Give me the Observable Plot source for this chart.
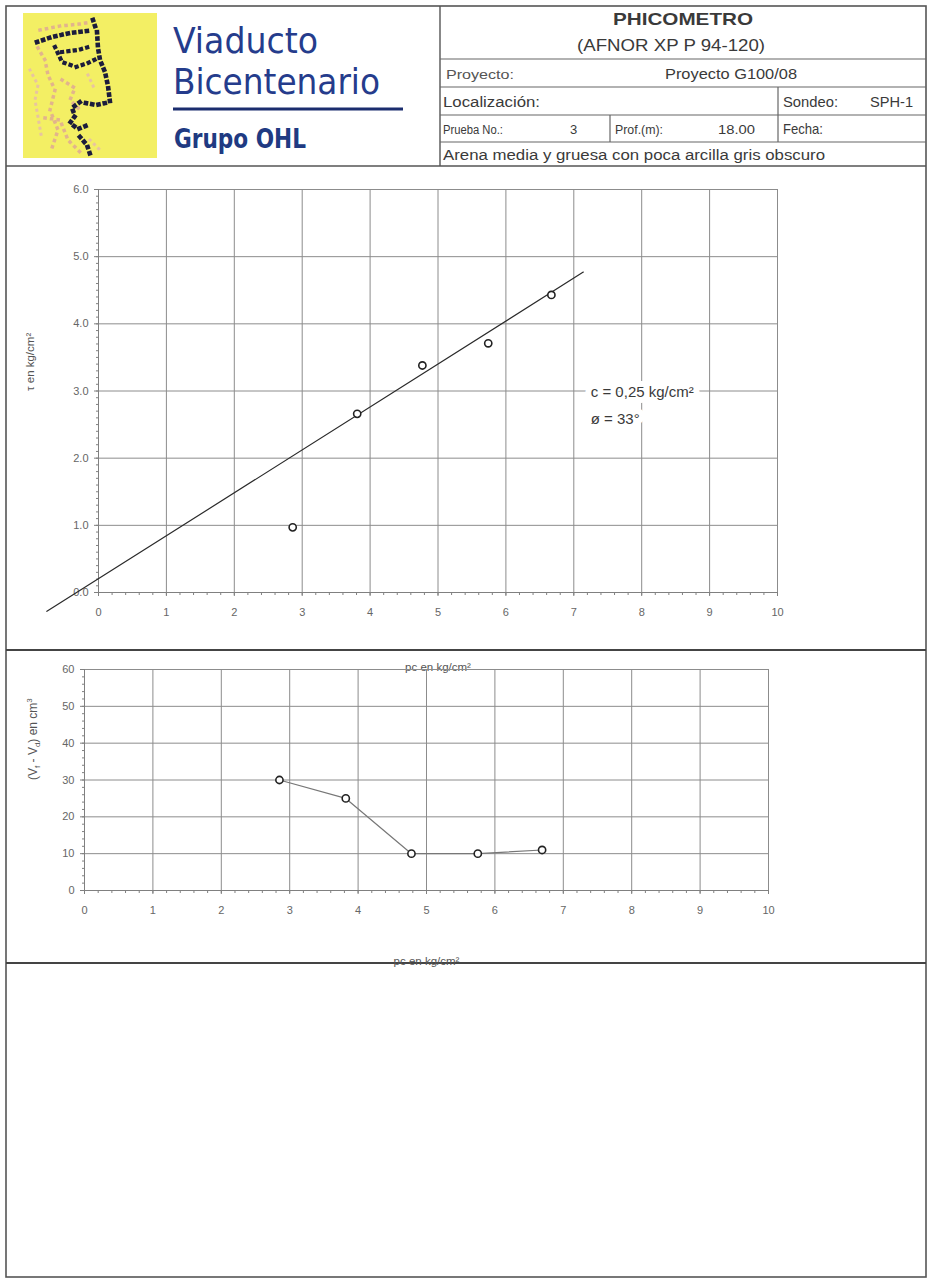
<!DOCTYPE html>
<html>
<head>
<meta charset="utf-8">
<script src="https://cdn.jsdelivr.net/npm/d3@7"></script>
<script src="https://cdn.jsdelivr.net/npm/@observablehq/plot@0.6"></script>
<style>
  html, body { margin: 0; padding: 0; background: #fff; }
  #page { position: relative; width: 929px; height: 1281px; overflow: hidden; background: #fff; }
  #page > svg, #page > div { position: absolute; }
  text { font-family: "Liberation Sans", Arial, sans-serif; }
</style>
</head>
<body>
<div id="page">
  <svg id="sheet" width="929" height="1281" style="left:0;top:0">
    <!-- outer frame -->
    <rect x="6" y="6" width="920" height="1271" fill="none" stroke="#555" stroke-width="1.6"/>
    <!-- header bottom and panel separators -->
    <line x1="6" x2="926" y1="166" y2="166" stroke="#555" stroke-width="1.6"/>
    <line x1="6" x2="926" y1="650" y2="650" stroke="#444" stroke-width="2.2"/>
    <line x1="6" x2="926" y1="963" y2="963" stroke="#444" stroke-width="2.2"/>
    <!-- header grid -->
    <line x1="440" x2="440" y1="6" y2="166" stroke="#555" stroke-width="1.4"/>
    <line x1="440" x2="926" y1="59" y2="59" stroke="#666" stroke-width="1.2"/>
    <line x1="440" x2="926" y1="87" y2="87" stroke="#666" stroke-width="1.2"/>
    <line x1="440" x2="926" y1="115" y2="115" stroke="#666" stroke-width="1.2"/>
    <line x1="440" x2="926" y1="142" y2="142" stroke="#666" stroke-width="1.2"/>
    <line x1="778" x2="778" y1="87" y2="142" stroke="#666" stroke-width="1.2"/>
    <line x1="610" x2="610" y1="115" y2="142" stroke="#666" stroke-width="1.2"/>

    <!-- logo -->
    <rect x="23" y="13" width="134" height="145" fill="#f3ef64"/>
    <g fill="none" stroke-linecap="square" stroke-linejoin="round">
      <path d="M40 30 L60 26 L80 24 L92 22 M38 48 L45 60 L48 75 L55 90 L50 110 L58 130 L52 148 M62 80 L75 88 L70 100 L80 110 M45 118 L60 120 L68 140 L80 152"
            stroke="#e2b48c" stroke-width="3.5" stroke-dasharray="0.1 6.5"/>
      <path d="M30 70 L38 85 L35 100 L42 140 M88 75 L95 90 M90 140 L100 150"
            stroke="#e8c4a0" stroke-width="3" stroke-dasharray="0.1 6"/>
      <path d="M37 42 L52 37 L70 33 L87 31 M93 20 L97 32 L98 48 L100 60 L105 72 L108 86 L110 102 L96 105 L80 102 L72 108 L75 116 L70 123 L78 129 L88 125 M80 137 L87 145 L90 154"
            stroke="#1c1c3c" stroke-width="4.6" stroke-dasharray="0.1 6.3"/>
      <path d="M55 47 L62 62 L76 67 L88 63 L98 58 M62 52 L78 50 L92 46"
            stroke="#1c1c3c" stroke-width="4.2" stroke-dasharray="0.1 6.3"/>
    </g>

    <text x="173" y="53" font-size="36" fill="#253c8c" textLength="145" lengthAdjust="spacingAndGlyphs"
          style="font-family:'Liberation Sans Narrow','DejaVu Sans Condensed',sans-serif">Viaducto</text>
    <text x="173" y="94" font-size="36" fill="#253c8c" textLength="207" lengthAdjust="spacingAndGlyphs"
          style="font-family:'Liberation Sans Narrow','DejaVu Sans Condensed',sans-serif">Bicentenario</text>
    <line x1="173" x2="403" y1="109" y2="109" stroke="#1b2d6e" stroke-width="3"/>
    <text x="174" y="148" font-size="27" font-weight="bold" fill="#203a82" textLength="132" lengthAdjust="spacingAndGlyphs"
          style="font-family:'DejaVu Sans Condensed','Liberation Sans Narrow',sans-serif">Grupo OHL</text>

    <g fill="#3a3a3a">
      <text x="683" y="25" font-size="17" font-weight="bold" text-anchor="middle" textLength="140" lengthAdjust="spacingAndGlyphs">PHICOMETRO</text>
      <text x="671" y="51" font-size="17" text-anchor="middle" textLength="188" lengthAdjust="spacingAndGlyphs">(AFNOR XP P 94-120)</text>
      <text x="446" y="79" font-size="13" fill="#555" textLength="68" lengthAdjust="spacingAndGlyphs">Proyecto:</text>
      <text x="665" y="79" font-size="14" textLength="132" lengthAdjust="spacingAndGlyphs">Proyecto G100/08</text>
      <text x="443" y="107" font-size="14" textLength="97" lengthAdjust="spacingAndGlyphs">Localización:</text>
      <text x="783" y="107" font-size="14" textLength="55" lengthAdjust="spacingAndGlyphs">Sondeo:</text>
      <text x="870" y="107" font-size="14" textLength="43" lengthAdjust="spacingAndGlyphs">SPH-1</text>
      <text x="443" y="134" font-size="12.5" textLength="60" lengthAdjust="spacingAndGlyphs">Prueba No.:</text>
      <text x="570" y="134" font-size="13">3</text>
      <text x="615" y="134" font-size="13" textLength="48" lengthAdjust="spacingAndGlyphs">Prof.(m):</text>
      <text x="718" y="134" font-size="13" textLength="37" lengthAdjust="spacingAndGlyphs">18.00</text>
      <text x="783" y="134" font-size="15" textLength="40" lengthAdjust="spacingAndGlyphs">Fecha:</text>
      <text x="443" y="160" font-size="14" textLength="382" lengthAdjust="spacingAndGlyphs">Arena media y gruesa con poca arcilla gris obscuro</text>
    </g>
  </svg>
  <div id="chart1" style="left:0;top:170px"></div>
  <div id="chart2" style="left:0;top:650px"></div>
</div>
<script>
// ---------- data ----------
const xTickValues = [0, 1, 2, 3, 4, 5, 6, 7, 8, 9, 10];
const tauTickValues = [0, 1, 2, 3, 4, 5, 6];
const volTickValues = [0, 10, 20, 30, 40, 50, 60];

// shear test points (pc, tau)
const shearPc = [2.86, 3.81, 4.77, 5.74, 6.67];
const shearTau = [0.97, 2.66, 3.38, 3.71, 4.43];

// fitted failure line endpoints as drawn
const fitPc = [-0.76, 7.14];
const fitTau = [-0.28, 4.77];

// volume change points (pc, Vf - Vd)
const volPc = [2.85, 3.82, 4.78, 5.75, 6.69];
const volDelta = [30, 25, 10, 10, 11];

// annotation
const annotLines = ["c = 0,25 kg/cm²", "ø = 33°"];
const annotPc = [7.25, 7.25];
const annotTau = [2.98, 2.58];

const xLabel = "pc en kg/cm²";
const tauLabel = "τ en kg/cm²";
const volLabel = "(Vf - Vd) en cm3";

// ---------- tables ----------
const shear = shearPc.map((x, i) => ({x, y: shearTau[i]}));
const fit = fitPc.map((x, i) => ({x, y: fitTau[i]}));
const vol = volPc.map((x, i) => ({x, y: volDelta[i]}));
const annot = annotLines.map((t, i) => ({t, x: annotPc[i], y: annotTau[i]}));

const minorX = d3.range(0, 10.0001, 0.2);
const minorTau = d3.range(0, 6.0001, 0.1);
const minorVol = d3.range(0, 60.0001, 2);

const gridColor = "#8c8c8c";
const axisColor = "#808080";
const labelColor = "#666";

const common = {
  width: 929,
  style: {background: "transparent", fontFamily: "'Liberation Sans', Arial, sans-serif", fontSize: "11px", color: labelColor}
};

function axes(yTicks, yMinor, yFormat) {
  return [
    Plot.axisX(minorX, {tickSize: 3, tickFormat: () => "", stroke: axisColor, label: null}),
    Plot.axisY(yMinor, {tickSize: 2, tickFormat: () => "", stroke: axisColor, label: null}),
    Plot.axisX(xTickValues, {tickSize: 4, tickPadding: 12, tickFormat: d => String(d), stroke: axisColor, fill: labelColor, label: null}),
    Plot.axisY(yTicks, {tickSize: 4, tickPadding: 6, tickFormat: yFormat, stroke: axisColor, fill: labelColor, label: null}),
    Plot.ruleX([0], {stroke: axisColor}),
    Plot.ruleY([0], {stroke: axisColor})
  ];
}

// ---------- chart 1 ----------
const chart1 = Plot.plot({
  ...common,
  height: 510,
  marginLeft: 98, marginRight: 152, marginTop: 19, marginBottom: 88,
  x: {domain: [0, 10], axis: null},
  y: {domain: [0, 6], axis: null},
  marks: [
    Plot.gridX(xTickValues, {stroke: gridColor, strokeOpacity: 1, strokeWidth: 1}),
    Plot.gridY(tauTickValues, {stroke: gridColor, strokeOpacity: 1, strokeWidth: 1}),
    Plot.frame({stroke: gridColor}),
    ...axes(tauTickValues, minorTau, d3.format(".1f")),
    Plot.line(fit, {x: "x", y: "y", stroke: "#2a2a2a", strokeWidth: 1.2}),
    Plot.dot(shear, {x: "x", y: "y", r: 3.6, stroke: "#222", strokeWidth: 1.6, fill: "white"}),
    Plot.text(annot, {x: "x", y: "y", text: "t", textAnchor: "start", fontSize: 15, fill: "#3a3a3a",
      stroke: "white", strokeWidth: 12, fontFamily: "'Liberation Sans', Arial, sans-serif"}),
    Plot.text([tauLabel], {frameAnchor: "left", dx: -68, rotate: -90, fontSize: 11.5, fill: "#555"}),
    Plot.text([xLabel], {frameAnchor: "bottom", dy: 78, fontSize: 11.5, fill: "#555"})
  ]
});
document.getElementById("chart1").appendChild(chart1);

// ---------- chart 2 ----------
const chart2 = Plot.plot({
  ...common,
  height: 330,
  marginLeft: 84, marginRight: 161, marginTop: 19, marginBottom: 90,
  x: {domain: [0, 10], axis: null},
  y: {domain: [0, 60], axis: null},
  marks: [
    Plot.gridX(xTickValues, {stroke: gridColor, strokeOpacity: 1, strokeWidth: 1}),
    Plot.gridY(volTickValues, {stroke: gridColor, strokeOpacity: 1, strokeWidth: 1}),
    Plot.frame({stroke: gridColor}),
    ...axes(volTickValues, minorVol, d => String(d)),
    Plot.line(vol, {x: "x", y: "y", stroke: "#777", strokeWidth: 1.2}),
    Plot.dot(vol, {x: "x", y: "y", r: 3.6, stroke: "#222", strokeWidth: 1.6, fill: "white"}),
    Plot.text([volLabel], {frameAnchor: "left", dx: -51, rotate: -90, fontSize: 12, fill: "#555"}),
    Plot.text([xLabel], {frameAnchor: "bottom", dy: 74, fontSize: 11.5, fill: "#555"})
  ]
});
document.getElementById("chart2").appendChild(chart2);

// subscripts / superscript in the volume label
chart2.querySelectorAll("text").forEach(t => {
  if (t.textContent === volLabel) {
    t.innerHTML = '(V<tspan dy="3" font-size="8">f</tspan><tspan dy="-3"> - V</tspan><tspan dy="3" font-size="8">d</tspan><tspan dy="-3">) en cm</tspan><tspan dy="-5" font-size="8">3</tspan>';
  }
});
</script>
</body>
</html>
